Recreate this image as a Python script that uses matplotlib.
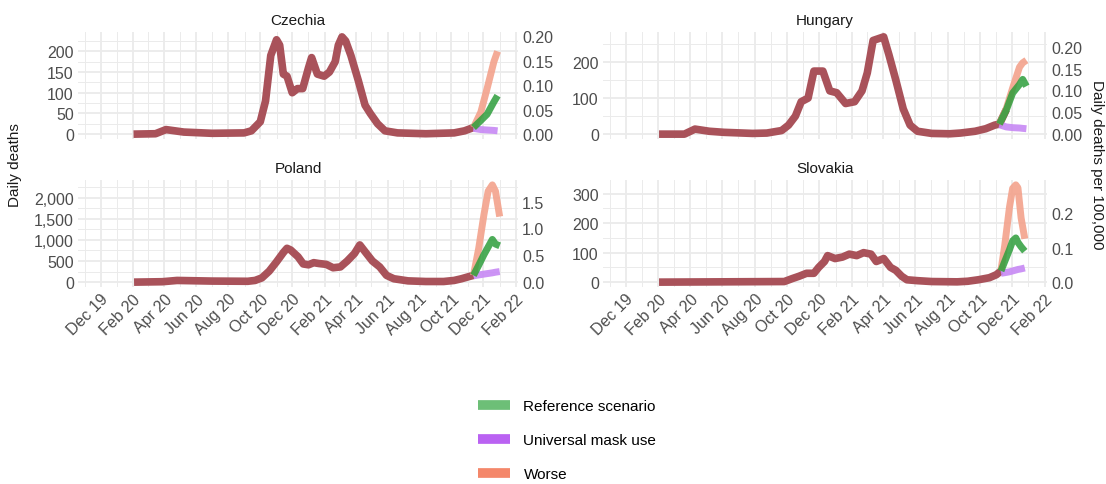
import numpy as np
import matplotlib
matplotlib.use("Agg")
import matplotlib.pyplot as plt
import matplotlib.dates as mdates
from matplotlib.ticker import FixedLocator, MultipleLocator, FuncFormatter
from matplotlib.lines import Line2D

plt.rcParams['font.family'] = ['Liberation Sans', 'DejaVu Sans']

# DATA
countries = ['Czechia', 'Hungary', 'Poland', 'Slovakia']

cz_obs_dates = ['2020-02-02', '2020-03-15', '2020-04-04', '2020-05-08', '2020-07-01', '2020-08-31',
                '2020-09-14', '2020-10-01', '2020-10-11', '2020-10-21', '2020-11-01', '2020-11-07',
                '2020-11-14', '2020-11-21', '2020-12-01', '2020-12-11', '2020-12-21', '2021-01-01',
                '2021-01-07', '2021-01-18', '2021-01-31', '2021-02-10', '2021-02-21', '2021-02-27',
                '2021-03-06', '2021-03-13', '2021-03-23', '2021-04-06', '2021-04-19', '2021-04-29',
                '2021-05-13', '2021-05-27', '2021-06-20', '2021-08-13', '2021-10-06', '2021-10-26',
                '2021-11-12']
cz_obs = [0, 1, 11, 5, 2, 3, 8, 30, 80, 190, 228, 215, 145, 140, 100, 110, 110, 160, 185, 145,
          140, 150, 175, 215, 235, 225, 190, 130, 70, 50, 25, 8, 3, 1, 3, 8, 16]
cz_proj_dates = ['2021-11-12', '2021-11-26', '2021-12-08', '2021-12-21', '2021-12-28']
cz_ref = [16, 33, 48, 78, 93]
cz_mask = [14, 11, 10, 9, 8]
cz_worse = [16, 53, 110, 175, 200]

hu_obs_dates = ['2020-02-02', '2020-03-21', '2020-04-10', '2020-05-07', '2020-06-04', '2020-07-28',
                '2020-08-24', '2020-09-21', '2020-10-04', '2020-10-17', '2020-10-28', '2020-11-10',
                '2020-11-21', '2020-12-08', '2020-12-21', '2021-01-03', '2021-01-20', '2021-02-06',
                '2021-02-20', '2021-03-02', '2021-03-13', '2021-04-02', '2021-04-12', '2021-04-25',
                '2021-05-09', '2021-05-22', '2021-06-05', '2021-07-02', '2021-08-05', '2021-08-25',
                '2021-09-22', '2021-10-12', '2021-10-29', '2021-11-07', '2021-11-20']
hu_obs = [0, 0, 14, 8, 5, 2, 3, 10, 25, 50, 90, 100, 175, 175, 120, 115, 85, 90, 120, 170,
          260, 270, 220, 150, 70, 25, 8, 2, 1, 3, 8, 15, 25, 28, 68]
hu_proj_dates = ['2021-11-07', '2021-11-20', '2021-12-02', '2021-12-15', '2021-12-21', '2021-12-28']
hu_ref = [28, 67, 114, 138, 152, 133]
hu_mask = [26, 20, 18, 17, 16, 15]
hu_worse = [28, 71, 128, 186, 198, 205]

pl_obs_dates = ['2020-02-03', '2020-03-28', '2020-04-25', '2020-07-01', '2020-09-07', '2020-09-21',
                '2020-10-04', '2020-10-18', '2020-11-01', '2020-11-14', '2020-11-21', '2020-11-28',
                '2020-12-12', '2020-12-22', '2021-01-01', '2021-01-11', '2021-01-21', '2021-02-04',
                '2021-02-17', '2021-03-03', '2021-03-16', '2021-03-30', '2021-04-09', '2021-04-19',
                '2021-05-03', '2021-05-17', '2021-05-30', '2021-06-13', '2021-07-10', '2021-08-13',
                '2021-09-16', '2021-10-06', '2021-10-20', '2021-11-03', '2021-11-12']
pl_obs = [0, 10, 40, 25, 20, 40, 100, 260, 480, 700, 800, 760, 600, 430, 410, 460, 440, 420,
          340, 360, 500, 680, 880, 720, 500, 360, 160, 80, 30, 15, 15, 40, 80, 130, 160]
pl_proj_dates = ['2021-11-12', '2021-11-22', '2021-12-02', '2021-12-10', '2021-12-18', '2021-12-24',
                 '2022-01-01']
pl_ref = [160, 400, 650, 830, 1010, 900, 860]
pl_mask = [150, 170, 190, 205, 220, 235, 250]
pl_worse = [160, 800, 1600, 2150, 2300, 2150, 1550]

sk_obs_dates = ['2020-02-02', '2020-09-26', '2020-10-11', '2020-10-24', '2020-11-07', '2020-11-21',
                '2020-11-30', '2020-12-11', '2020-12-17', '2020-12-31', '2021-01-14', '2021-01-27',
                '2021-02-10', '2021-02-23', '2021-03-09', '2021-03-19', '2021-04-02', '2021-04-15',
                '2021-04-25', '2021-05-06', '2021-05-16', '2021-06-05', '2021-07-02', '2021-08-19',
                '2021-09-08', '2021-09-28', '2021-10-19', '2021-11-01', '2021-11-10']
sk_obs = [0, 2, 12, 20, 30, 30, 50, 70, 90, 80, 85, 95, 90, 100, 95, 70, 80, 50, 40, 20,
          8, 5, 2, 1, 3, 8, 15, 25, 38]
sk_proj_dates = ['2021-11-10', '2021-11-17', '2021-11-26', '2021-12-02', '2021-12-08',
                 '2021-12-12', '2021-12-18', '2021-12-25']
sk_ref = [38, 70, 110, 140, 150, 135, 120, 105]
sk_mask = [30, 32, 35, 38, 41, 43, 45, 48]
sk_worse = [41, 124, 254, 318, 330, 320, 218, 147]

# left axis breaks and right (per 100,000) axis breaks
left_breaks = {'Czechia': [0, 50, 100, 150, 200], 'Hungary': [0, 100, 200],
               'Poland': [0, 500, 1000, 1500, 2000], 'Slovakia': [0, 100, 200, 300]}
right_breaks = {'Czechia': [0, 0.05, 0.10, 0.15, 0.20], 'Hungary': [0, 0.05, 0.10, 0.15, 0.20],
                'Poland': [0, 0.5, 1.0, 1.5], 'Slovakia': [0, 0.1, 0.2]}
right_fmt = {'Czechia': '{:.2f}', 'Hungary': '{:.2f}', 'Poland': '{:.1f}', 'Slovakia': '{:.1f}'}
sec_factor = {'Czechia': 1180, 'Hungary': 1214, 'Poland': 1270, 'Slovakia': 1170}

scenario_names = ['Reference scenario', 'Universal mask use', 'Worse']

data = {
    'Czechia': (cz_obs_dates, cz_obs, cz_proj_dates, cz_ref, cz_mask, cz_worse),
    'Hungary': (hu_obs_dates, hu_obs, hu_proj_dates, hu_ref, hu_mask, hu_worse),
    'Poland': (pl_obs_dates, pl_obs, pl_proj_dates, pl_ref, pl_mask, pl_worse),
    'Slovakia': (sk_obs_dates, sk_obs, sk_proj_dates, sk_ref, sk_mask, sk_worse),
}

# STYLE
c_obs = '#A9525A'
c_ref = '#2E9E3C'
c_mask = '#C788F4'
c_worse = '#F3A28C'
leg_colors = ['#6DBF77', '#BA62F2', '#F4876A']
grid_c = '#EBEBEB'
txt_c = '#4D4D4D'
tick_fs = 11.5

fig = plt.figure(figsize=(11.06, 4.85), dpi=100)


def rect(x0, y0, x1, y1):
    return [x0 / 1106, 1 - y1 / 485, (x1 - x0) / 1106, (y1 - y0) / 485]


boxes = {'Czechia': (78, 33, 518, 140), 'Hungary': (603, 33, 1047, 140),
         'Poland': (78, 181, 518, 288), 'Slovakia': (603, 181, 1047, 288)}

xmin = np.datetime64('2019-10-19')
xmax = np.datetime64('2022-02-05')

for name in countries:
    od, ov, pd_, ref, mask, worse = data[name]
    od = np.array(od, dtype='datetime64[D]')
    pd_ = np.array(pd_, dtype='datetime64[D]')
    ax = fig.add_axes(rect(*boxes[name]))

    ax.plot(od, ov, color=c_obs, lw=5.5, solid_capstyle='butt', solid_joinstyle='round', zorder=3)
    ax.plot(pd_, mask, color=c_mask, lw=5, alpha=0.9, solid_capstyle='butt', zorder=4)
    ax.plot(pd_, worse, color=c_worse, lw=5, alpha=0.9, solid_capstyle='butt', zorder=4)
    ax.plot(pd_, ref, color=c_ref, lw=5, alpha=0.85, solid_capstyle='butt', zorder=5)

    ymax = max(max(ov), max(ref), max(mask), max(worse))
    ax.set_ylim(-0.05 * ymax, 1.05 * ymax)
    ax.set_xlim(xmin, xmax)

    # grid
    lb = left_breaks[name]
    step = lb[1] - lb[0]
    ax.yaxis.set_major_locator(FixedLocator(lb))
    ax.yaxis.set_minor_locator(MultipleLocator(step / 2))
    ax.yaxis.set_major_formatter(FuncFormatter(lambda v, p: '{:,.0f}'.format(v)))
    ax.xaxis.set_major_locator(mdates.MonthLocator(bymonth=[2, 4, 6, 8, 10, 12]))
    ax.xaxis.set_minor_locator(mdates.MonthLocator())
    ax.xaxis.set_major_formatter(mdates.DateFormatter('%b %y'))
    ax.grid(True, which='major', color=grid_c, lw=1.3)
    ax.grid(True, which='minor', color=grid_c, lw=0.7)
    ax.set_axisbelow(True)
    for s in ax.spines.values():
        s.set_visible(False)
    ax.tick_params(which='both', length=0, labelsize=tick_fs, labelcolor=txt_c, pad=3)

    if name in ('Czechia', 'Hungary'):
        ax.tick_params(axis='x', labelbottom=False)
    else:
        for lab in ax.get_xticklabels():
            lab.set_rotation(45)
            lab.set_ha('right')
            lab.set_va('top')
            lab.set_rotation_mode('anchor')

    ax.set_title(name, fontsize=11, color='#1A1A1A', pad=6)

    # secondary axis: deaths per 100,000
    ax2 = ax.twinx()
    f = sec_factor[name]
    lo, hi = ax.get_ylim()
    ax2.set_ylim(lo / f, hi / f)
    ax2.yaxis.set_major_locator(FixedLocator(right_breaks[name]))
    fmt = right_fmt[name]
    ax2.yaxis.set_major_formatter(FuncFormatter(lambda v, p, fmt=fmt: fmt.format(v)))
    for s in ax2.spines.values():
        s.set_visible(False)
    ax2.tick_params(length=0, labelsize=tick_fs, labelcolor=txt_c, pad=3)

fig.text(0.014, 1 - 165 / 485, 'Daily deaths', rotation=90, ha='center', va='center',
         fontsize=11, color='#1A1A1A')
fig.text(0.992, 1 - 165 / 485, 'Daily deaths per 100,000', rotation=-90, ha='center', va='center',
         fontsize=11, color='#1A1A1A')

handles = [Line2D([], [], color=c, lw=7, solid_capstyle='butt') for c in leg_colors]
fig.legend(handles, scenario_names, loc='center', bbox_to_anchor=(0.513, 1 - 441 / 485),
           frameon=False, fontsize=11, handlelength=2.1, labelspacing=1.3, handletextpad=0.85)

fig.savefig('out.png', dpi=100)
